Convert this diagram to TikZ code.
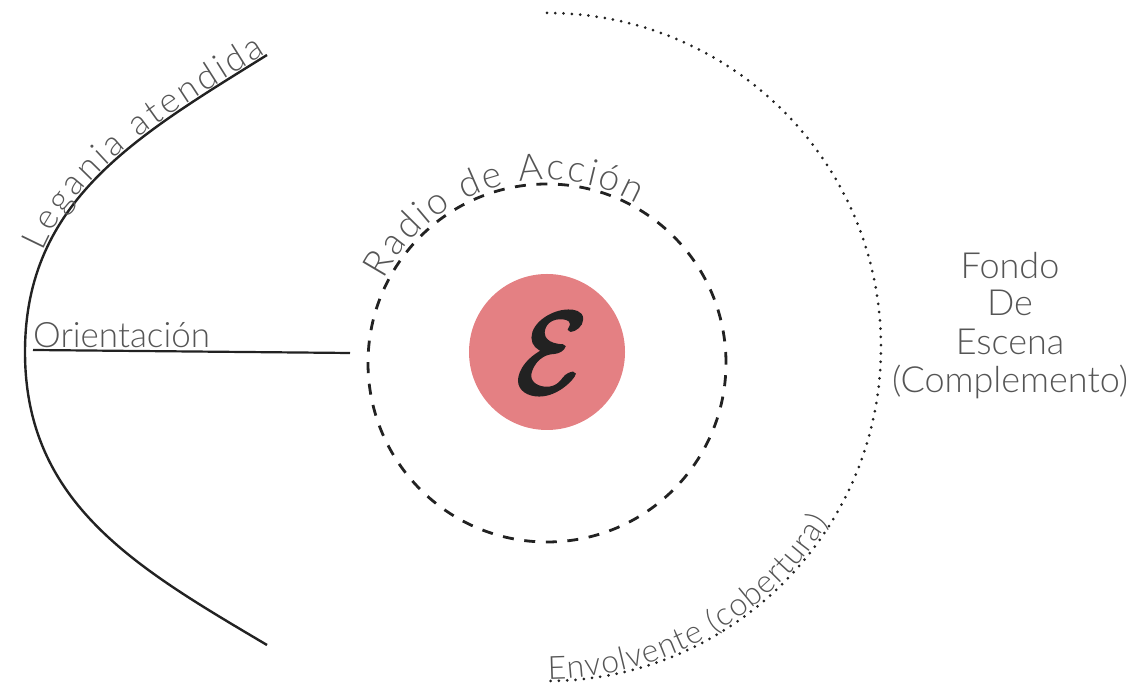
\documentclass[tikz,border=0pt]{standalone}
\usepackage{fontspec}
\usetikzlibrary{decorations.text,calc}
\IfFontExistsTF{Lato Light}{\newfontfamily\thinf{Lato Light}}{%
 \IfFontExistsTF{Lato Hairline}{\newfontfamily\thinf{Lato Hairline}}{\newfontfamily\thinf{Lato}}}
\definecolor{egopink}{RGB}{228,128,131}
\definecolor{ink}{RGB}{34,34,34}
\definecolor{labelgray}{RGB}{85,85,85}
\tikzset{
  solidline/.style={draw=ink, line width=2.4pt},
  dashring/.style={draw=ink, line width=2.8pt, dash pattern=on 11pt off 10.6pt},
  dotring/.style={draw=ink, line width=3pt, line cap=round, dash pattern=on 0pt off 8.3pt},
  lbl/.style={text=labelgray, font=\thinf\fontsize{36}{37}\selectfont, inner sep=0pt},
  curvelbl/.style={decorate, decoration={text along path, text color=labelgray, text align=fit to path, #1}}
}
\begin{document}
\begin{tikzpicture}[x=1pt,y=1pt]
\useasboundingbox (0,0) rectangle (1130,693);
% centres
\coordinate (cego) at (547,341);
\coordinate (crad) at (547,330);
\coordinate (cenv) at (547,346);
% ego circle and glyph
\node[circle, fill=egopink, minimum size=156pt, inner sep=0pt] (ego) at (cego) {};
\node[text=ink, inner sep=0pt, scale=11.5] (egoE) at (552,340)
  {\special{pdf:literal direct 2 Tr 0.3 w}$\mathcal{E}$\special{pdf:literal direct 0 Tr}};
% parabola-like curve (Legania)
\coordinate (ptop) at (267,638);
\coordinate (pvert) at (25,341);
\coordinate (pbot) at (267,48);
\draw[solidline] (ptop) .. controls (137,557) and (25,493) .. (pvert)
                 .. controls (25,189) and (137,125) .. (pbot);
% Orientacion line
\coordinate (ors) at (33,343);
\coordinate (ore) at (350,340);
\draw[solidline, line width=2.2pt] (ors) -- (ore);
\node[lbl, anchor=base west, font=\thinf\fontsize{35}{35}\selectfont] (orient) at (33,345.5) {Orientación};
% radio de accion
\draw[dashring] (crad) circle[radius=179];
% envolvente dotted arc
\coordinate (envtop) at ($(cenv)+(90:334)$);
\draw[dotring] (envtop) arc[start angle=90, end angle=-90, radius=334];
% fondo de escena
\node[lbl, anchor=base] (f1) at (1010,414) {Fondo};
\node[lbl, anchor=base] (f2) at (1010,377) {De};
\node[lbl, anchor=base] (f3) at (1010,338) {Escena};
\node[lbl, anchor=base] (f4) at (1010,300) {(Complemento)};
% curved labels
\coordinate (lgs) at (44.5,440.1);
\path[curvelbl={raise=2pt, text={|\thinf\fontsize{35}{35}\selectfont|Legania atendida}}]
  (lgs) .. controls (82.1,526.1) and (169.5,577.25) .. (ptop);
\coordinate (rads) at ($(crad)+(153:179)$);
\path[curvelbl={raise=4pt, text={|\thinf\fontsize{37}{37}\selectfont|Radio de Acción}}]
  (rads) arc[start angle=153, end angle=60.5, radius=179];
\coordinate (envs) at ($(cenv)+(-89.8:334)$);
\path[curvelbl={raise=2pt, text={|\thinf\fontsize{32}{32}\selectfont|Envolvente (cobertura)}}]
  (envs) arc[start angle=-89.8, end angle=-32, radius=334];
\end{tikzpicture}
\end{document}
